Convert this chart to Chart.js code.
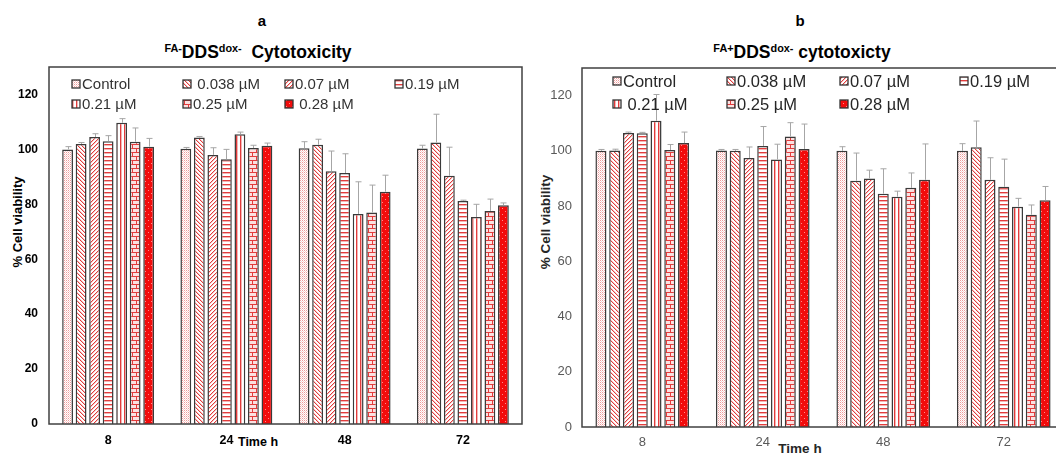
<!DOCTYPE html>
<html>
<head>
<meta charset="utf-8">
<script src="https://cdn.jsdelivr.net/npm/chart.js@4.4.1/dist/chart.umd.min.js"></script>
<style>
  body { margin: 0; width: 1056px; height: 453px; overflow: hidden; background: #fff; position: relative;
         font-family: "Liberation Sans", Arial, sans-serif; }
  canvas { position: absolute; }
  .txt { position: absolute; white-space: nowrap; transform: translate(-50%, -50%); color: #000; font-weight: bold; }
  .txt sup { font-size: 62%; vertical-align: 0; position: relative; top: -0.55em; }
  .rot { transform: translate(-50%, -50%) rotate(-90deg); }
</style>
</head>
<body>
<div class="txt" style="left:262px;top:20px;font-size:15px;">a</div>
<div class="txt" style="left:258px;top:52px;font-size:17.5px;"><sup>FA-</sup>DDS<sup>dox-</sup>&nbsp; Cytotoxicity</div>
<div class="txt" style="left:800px;top:20px;font-size:15px;">b</div>
<div class="txt" style="left:802px;top:52px;font-size:17.5px;"><sup>FA+</sup>DDS<sup>dox-</sup> cytotoxicty</div>
<div class="txt rot" style="left:17px;top:222px;font-size:13px;">% Cell viability</div>
<div class="txt rot" style="left:545px;top:222px;font-size:13.5px;color:#262626;">% Cell viability</div>
<div class="txt" style="left:258px;top:442px;font-size:12.5px;">Time h</div>
<div class="txt" style="left:800px;top:448px;font-size:13.5px;color:#262626;">Time h</div>

<canvas id="graficaA" width="530" height="393" style="left:0;top:60px;"></canvas>
<canvas id="graficaB" width="540" height="393" style="left:530px;top:60px;"></canvas>

<script>
// Datos (tiempo en horas en el eje x)
const horas = ['8', '24', '48', '72'];
const nombresA = ['Control', ' 0.038 µM', '0.07 µM', '0.19 µM', '0.21 µM', '0.25 µM', ' 0.28 µM'];
const nombresB = ['Control', '0.038 µM', '0.07 µM', '0.19 µM', ' 0.21 µM', '0.25 µM', '0.28 µM'];
const ticksY = [0, 20, 40, 60, 80, 100, 120];

// grafica a: FA- DDS dox-  (% viabilidad)
const controlA = [100, 100.2, 100.4, 100.3];
const c038A = [102, 104.3, 101.7, 102.5];
const c07A = [104.5, 98, 92, 90.4];
const c19A = [103, 96.4, 91.4, 81.2];
const c21A = [109.7, 105.5, 76.5, 75.4];
const c25A = [102.8, 100.5, 77, 77.6];
const c28A = [101, 101.3, 84.6, 79.7];
// desvio (solo se ve hacia arriba)
const errControlA = [1, 0.5, 2.4, 1.2];
const err038A = [0.5, 0.4, 2, 10.3];
const err07A = [1.2, 2.6, 7.4, 10.4];
const err19A = [2, 3.6, 7, 0.3];
const err21A = [1.5, 0.8, 11.7, 4.6];
const err25A = [5, 1, 10, 4.3];
const err28A = [3, 1, 6, 0.8];

// grafica b: FA+ DDS dox-
const controlB = [100, 100.1, 100, 100];
const c038B = [100.1, 100, 89.2, 101.3];
const c07B = [106.5, 97.4, 90, 89.5];
const c19B = [106.4, 101.8, 84.5, 87];
const c21B = [110.9, 96.9, 83.4, 79.8];
const c25B = [100.3, 105.2, 86.6, 76.9];
const c28B = [102.8, 100.7, 89.5, 82.1];
const errControlB = [0.5, 0.4, 1.5, 2.6];
const err038B = [0.5, 0.5, 10, 9.5];
const err07B = [0.3, 4, 3, 8];
const err19B = [0.3, 7, 9, 10];
const err21B = [9.5, 5.5, 2, 3];
const err25B = [2, 5, 5.4, 3.5];
const err28B = [4, 9, 13, 5];

const valoresA = [controlA, c038A, c07A, c19A, c21A, c25A, c28A];
const erroresA = [errControlA, err038A, err07A, err19A, err21A, err25A, err28A];
const valoresB = [controlB, c038B, c07B, c19B, c21B, c25B, c28B];
const erroresB = [errControlB, err038B, err07B, err19B, err21B, err25B, err28B];


// Tramas tipo Excel (rojo sobre blanco)
function trama(tipo) {
    const c = document.createElement('canvas');
    const s = (tipo === 'ladrillo') ? 8 : (tipo === 'rojo' ? 6 : 4);
    c.width = s; c.height = s;
    const g = c.getContext('2d');
    g.fillStyle = '#ffffff';
    g.fillRect(0, 0, s, s);
    const rojo = '#e23c3c';
    for (let x = 0; x < s; x++) {
        for (let y = 0; y < s; y++) {
            let pinta = null;
            if (tipo === 'puntos') {
                if ((x + y) % 2 === 0) pinta = (x % 2 === 0) ? '#ee9a9a' : '#f8d0d0';
            } else if (tipo === 'diagAbajo') {
                if ((x - y + s) % s === 0) pinta = rojo;
                else if ((x - y + s) % s === 1) pinta = '#f6c4c4';
            } else if (tipo === 'diagArriba') {
                if ((x + y) % s === 0) pinta = rojo;
                else if ((x + y) % s === 1) pinta = '#f6c4c4';
            } else if (tipo === 'horiz') {
                if (y === 0) pinta = rojo;
                else if (y === 1) pinta = '#f4b4b4';
            } else if (tipo === 'vert') {
                if (x === 0) pinta = rojo;
                else if (x === 1) pinta = '#f4b4b4';
            } else if (tipo === 'ladrillo') {
                if (y === 0 || y === 4) pinta = rojo;
                else if ((y < 4 && x === 0) || (y > 4 && x === 4)) pinta = rojo;
                else pinta = '#fbe0e0';
            } else if (tipo === 'rojo') {
                pinta = '#f20c0c';
                if ((x === 1 && y === 1) || (x === 4 && y === 4)) pinta = '#ff8c8c';
            }
            if (pinta) { g.fillStyle = pinta; g.fillRect(x, y, 1, 1); }
        }
    }
    return g.createPattern(c, 'repeat');
}

const tramas = ['puntos', 'diagAbajo', 'diagArriba', 'horiz', 'vert', 'ladrillo', 'rojo'].map(trama);


// Barras de error hacia arriba
const barrasError = {
    id: 'barrasError',
    afterDatasetsDraw(chart, args, opts) {
        const ctx = chart.ctx;
        const y = chart.scales.y;
        ctx.save();
        ctx.strokeStyle = opts.color;
        ctx.lineWidth = 1;
        chart.data.datasets.forEach((ds, i) => {
            const meta = chart.getDatasetMeta(i);
            meta.data.forEach((bar, j) => {
                const tope = y.getPixelForValue(ds.data[j] + ds.errores[j]);
                const x = Math.round(bar.x) + 0.5;
                ctx.beginPath();
                ctx.moveTo(x, bar.y);
                ctx.lineTo(x, tope);
                ctx.moveTo(x - 3, tope);
                ctx.lineTo(x + 3, tope);
                ctx.stroke();
            });
        });
        ctx.restore();
    }
};

// Marco del area de la grafica
const marco = {
    id: 'marco',
    afterDraw(chart, args, opts) {
        const a = chart.chartArea;
        const ctx = chart.ctx;
        ctx.save();
        ctx.strokeStyle = opts.color;
        ctx.lineWidth = 1.5;
        ctx.strokeRect(a.left, a.top, a.right - a.left, a.bottom - a.top);
        ctx.restore();
    }
};

// Leyenda dentro del area, en grilla de 4 columnas
const leyendaInterna = {
    id: 'leyendaInterna',
    afterDraw(chart, args, opts) {
        const a = chart.chartArea;
        const ctx = chart.ctx;
        ctx.save();
        ctx.font = opts.font;
        ctx.textBaseline = 'middle';
        chart.data.datasets.forEach((ds, i) => {
            const x = a.left + opts.columnas[i % 4];
            const y = a.top + opts.filas[Math.floor(i / 4)];
            ctx.fillStyle = ds.backgroundColor;
            ctx.fillRect(x, y - 4, 8, 8);
            ctx.strokeStyle = '#333';
            ctx.lineWidth = 1.3;
            ctx.strokeRect(x, y - 4, 8, 8);
            ctx.fillStyle = opts.color;
            ctx.fillText(ds.label, x + 10, y + 1);
        });
        ctx.restore();
    }
};


function armarConfig(nombres, valores, errores, est) {
    const datasets = nombres.map((n, i) => ({
        label: n,
        data: valores[i],
        errores: errores[i],
        backgroundColor: tramas[i],
        borderColor: '#3a3a3a',
        borderWidth: 1.5,
        categoryPercentage: 0.8,
        barPercentage: 0.8
    }));
    return {
        type: 'bar',
        data: { labels: horas, datasets: datasets },
        options: {
            responsive: false,
            animation: false,
            events: [],
            layout: { padding: est.padding },
            scales: {
                x: {
                    grid: { display: false, drawTicks: false },
                    border: { display: false },
                    ticks: { color: est.colorTicks, font: { family: 'Liberation Sans', size: est.tamX, weight: est.peso }, padding: est.padX },
                    afterFit: (s) => { s.height = est.altoX; s.paddingLeft = 0; s.paddingRight = 0; }
                },
                y: {
                    min: 0,
                    max: 130,
                    grid: { display: false, drawTicks: false },
                    border: { display: false },
                    afterBuildTicks: (s) => { s.ticks = ticksY.map(v => ({ value: v })); },
                    ticks: { color: est.colorTicks, font: { family: 'Liberation Sans', size: est.tamY, weight: est.peso }, padding: est.padY },
                    afterFit: (s) => { s.width = est.anchoY; s.paddingTop = 0; s.paddingBottom = 0; }
                }
            },
            plugins: {
                legend: { display: false },
                tooltip: { enabled: false },
                barrasError: { color: '#a6a6a6' },
                marco: { color: est.colorMarco },
                leyendaInterna: { columnas: est.columnas, filas: est.filas, font: est.fuenteLeyenda, color: est.colorLeyenda }
            }
        },
        plugins: [barrasError, marco, leyendaInterna]
    };
}

const graficaA = new Chart(document.getElementById('graficaA'), armarConfig(nombresA, valoresA, erroresA, {
    padding: { top: 7, right: 8, left: 0, bottom: 0 },
    colorTicks: '#000', peso: 'bold', tamX: 12.5, tamY: 12, padX: 9, padY: 11, altoX: 29, anchoY: 49,
    colorMarco: '#404040',
    columnas: [23, 134, 236, 346], filas: [17, 37],
    fuenteLeyenda: '15px "Liberation Sans"', colorLeyenda: '#333'
}));

const graficaB = new Chart(document.getElementById('graficaB'), armarConfig(nombresB, valoresB, erroresB, {
    padding: { top: 8, right: 6, left: 0, bottom: 0 },
    colorTicks: '#595959', peso: 'normal', tamX: 13, tamY: 13, padX: 8, padY: 10, altoX: 26, anchoY: 52,
    colorMarco: '#404040',
    columnas: [31, 145, 258, 378], filas: [13, 36],
    fuenteLeyenda: '16.5px "Liberation Sans"', colorLeyenda: '#262626'
}));
</script>
</body>
</html>
